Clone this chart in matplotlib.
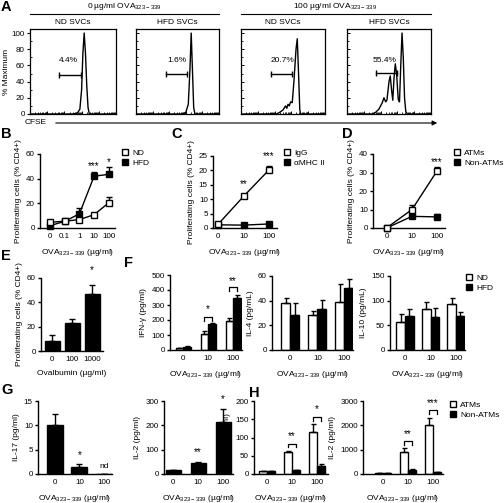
import matplotlib
matplotlib.use('Agg')
import matplotlib.pyplot as plt
from matplotlib.lines import Line2D
from matplotlib.patches import FancyArrowPatch
import numpy as np

plt.rcParams['font.family'] = ['Liberation Sans', 'DejaVu Sans']
plt.rcParams['mathtext.default'] = 'regular'
plt.rcParams['font.size'] = 6

W, H = 504, 503
fig = plt.figure(figsize=(W / 100, H / 100), dpi=100)

FS = 6.0
TFS = 5.8
OVA = 'OVA$_{323-339}$ (µg/ml)'

# ---------------- data ----------------
# Panel A histograms (x as fraction of CFSE axis, y as % of max)
h1_x = [0, 0.50, 0.55, 0.58, 0.60, 0.615, 0.63, 0.645, 0.66, 0.675, 0.69, 1]
h1_y = [0, 0, 1, 6, 30, 75, 100, 75, 35, 8, 0, 0]
h2_x = [0, 0.56, 0.60, 0.63, 0.65, 0.665, 0.68, 0.695, 0.71, 1]
h2_y = [0, 0, 2, 12, 55, 100, 55, 8, 0, 0]
h3_x = [0, 0.42, 0.46, 0.50, 0.53, 0.545, 0.56, 0.575, 0.59, 0.61, 0.63, 0.655, 0.67, 0.685, 0.70, 0.71, 1]
h3_y = [0, 0, 2, 5, 10, 7, 12, 10, 15, 14, 40, 80, 93, 50, 5, 0, 0]
h4_x = [0, 0.30, 0.34, 0.38, 0.42, 0.44, 0.46, 0.475, 0.50, 0.515, 0.53, 0.545, 0.56, 0.575,
        0.59, 0.61, 0.625, 0.64, 0.655, 0.67, 0.685, 0.70, 0.72, 1]
h4_y = [0, 0, 2, 6, 14, 20, 15, 17, 40, 47, 30, 17, 45, 62, 50, 18, 15, 60, 100, 70, 20, 3, 0, 0]
hist_titles = ['ND SVCs', 'HFD SVCs', 'ND SVCs', 'HFD SVCs']
hist_pct = ['4.4%', '1.6%', '20.7%', '55.4%']
gate_lo = [0.34, 0.36, 0.36, 0.35]
gate_hi = [0.59, 0.61, 0.61, 0.60]
gate_y = [48, 50, 50, 51]
pct_x = [0.44, 0.49, 0.49, 0.45]

# Panel B
b_cats = ['0', '0.1', '1', '10', '100']
b_nd = [4.6, 5.5, 6.8, 10.8, 20.5]
b_nd_err = [1.0, 0.8, 1.0, 1.0, 5.0]
b_hfd = [1.9, 5.4, 11.5, 42.0, 43.5]
b_hfd_err = [0.8, 0.8, 5.0, 3.5, 6.0]

# Panel C
c_cats = ['0', '10', '100']
c_igg = [1.3, 11.0, 20.2]
c_igg_err = [0.3, 0.5, 1.3]
c_mhc = [1.1, 1.0, 1.4]
c_mhc_err = [0.2, 0.2, 0.3]

# Panel D
d_cats = ['0', '10', '100']
d_atm = [0.2, 10.0, 30.8]
d_atm_err = [0.3, 2.2, 2.3]
d_non = [0.1, 6.3, 6.0]
d_non_err = [0.2, 1.0, 1.5]

# Panel E
e_cats = ['0', '100', '1000']
e_vals = [8.3, 23.2, 47.0]
e_err = [4.7, 3.0, 7.0]

# Panel F
f_cats = ['0', '10', '100']
f_ifn_nd = [11, 104, 193]
f_ifn_nd_err = [3, 25, 23]
f_ifn_hfd = [20, 173, 349]
f_ifn_hfd_err = [7, 9, 18]
f_il4_nd = [37.8, 28.4, 39.2]
f_il4_nd_err = [4.6, 3.2, 14.5]
f_il4_hfd = [28.4, 33.2, 50.0]
f_il4_hfd_err = [10.0, 7.3, 7.3]
f_il10_nd = [57.4, 82.4, 93.2]
f_il10_nd_err = [15, 14, 13]
f_il10_hfd = [69.0, 66.0, 69.6]
f_il10_hfd_err = [14, 20, 8]

# Panel G
g_cats = ['0', '10', '100']
g_il17 = [10.0, 1.4, 0.0]
g_il17_err = [2.3, 0.7, 0.0]
g_il2 = [15, 45, 215]
g_il2_err = [2, 3, 52]

# Panel H
h_cats = ['0', '10', '100']
h_ifn_atm = [7, 60, 115]
h_ifn_atm_err = [1, 3, 23]
h_ifn_non = [7, 10, 23]
h_ifn_non_err = [1, 2, 5]
h_il2_atm = [30, 920, 2020]
h_il2_atm_err = [5, 150, 300]
h_il2_non = [30, 170, 80]
h_il2_non_err = [5, 30, 20]


# ---------------- helpers ----------------
def add_ax(x0, x1, ytop, ybot):
    return fig.add_axes([x0 / W, 1 - ybot / H, (x1 - x0) / W, (ybot - ytop) / H])


def prism(ax, ymax, yticks, xlim, cats, ylabel, xlabel):
    ax.set_ylim(0, ymax)
    ax.set_yticks(yticks)
    ax.set_xlim(*xlim)
    ax.set_xticks(range(len(cats)))
    ax.set_xticklabels(cats)
    for s in ['top', 'right']:
        ax.spines[s].set_visible(False)
    for s in ['left', 'bottom']:
        ax.spines[s].set_linewidth(1.0)
    ax.spines['bottom'].set_bounds(xlim[0], xlim[1])
    ax.tick_params(direction='out', length=2.5, width=1.0, labelsize=TFS, pad=1.2)
    ax.tick_params(axis='x', length=0, pad=3.5)
    ax.set_ylabel(ylabel, fontsize=FS, labelpad=3)
    ax.set_xlabel(xlabel, fontsize=FS, labelpad=5)
    ax.patch.set_visible(False)


def star(ax, x, y, s):
    ax.annotate(s, (x, y), xytext=(0, -4), textcoords='offset points', ha='center',
                va='baseline', fontsize=7, annotation_clip=False)


def bracket(ax, x0, x1, ytop, yleg, ystar, s):
    ax.plot([x0, x0, x1, x1], [yleg, ytop, ytop, yleg], color='k', lw=0.9, clip_on=False)
    star(ax, (x0 + x1) / 2, ystar, s)


def line_series(ax, vals, err, filled):
    x = np.arange(len(vals))
    ax.errorbar(x, vals, yerr=[np.zeros(len(vals)), err], color='k', lw=1.0, capsize=2,
                capthick=1.0, elinewidth=1.0, marker='s', ms=4.5,
                mfc='k' if filled else 'white', mec='k', mew=1.0, clip_on=False,
                zorder=3 if filled else 4)


def grouped_bars(ax, v1, e1, v2, e2, w):
    x = np.arange(len(v1))
    ek = dict(capsize=1.8, capthick=1.0, elinewidth=1.0, ecolor='k')
    ax.bar(x - w / 2, v1, w, color='white', edgecolor='k', lw=1.0,
           yerr=[np.zeros(len(v1)), e1], error_kw=ek)
    ax.bar(x + w / 2, v2, w, color='k', edgecolor='k', lw=1.0,
           yerr=[np.zeros(len(v2)), e2], error_kw=ek)


def legend(x, y, labels, marker='s'):
    handles = [Line2D([], [], marker=marker, ls='none', ms=5, mfc='white', mec='k', mew=1.0),
               Line2D([], [], marker=marker, ls='none', ms=5, mfc='k', mec='k', mew=1.0)]
    fig.legend(handles, labels, loc='upper left', bbox_to_anchor=(x / W, 1 - y / H),
               frameon=False, fontsize=FS, handlelength=0.8, handletextpad=0.4,
               labelspacing=0.25, borderpad=0, borderaxespad=0)


def letter(x, y, s):
    fig.text(x / W, 1 - y / H, s, fontsize=10.5, fontweight='bold', ha='left', va='center')


# ---------------- Panel A ----------------
hist_boxes = [(30, 116), (136, 219), (241, 325), (347, 431)]
hx = [h1_x, h2_x, h3_x, h4_x]
hy = [h1_y, h2_y, h3_y, h4_y]
minor = [(d + np.log10(m)) / 5 for d in range(5) for m in range(2, 10)]
major = [d / 5 for d in range(6)]
for i, (x0, x1) in enumerate(hist_boxes):
    ax = add_ax(x0, x1, 29, 114)
    ax.plot(hx[i], hy[i], color='k', lw=1.0)
    ax.set_xlim(0, 1)
    ax.set_ylim(0, 105)
    ax.plot([gate_lo[i], gate_hi[i]], [gate_y[i], gate_y[i]], color='k', lw=1.0,
            marker='|', ms=4, mew=1.0)
    ax.text(pct_x[i], 66, hist_pct[i], ha='center', va='center', fontsize=FS)
    ax.set_xticks(major)
    ax.set_xticks(minor, minor=True)
    ax.set_xticklabels([])
    ax.tick_params(axis='x', which='major', direction='in', length=2.5, width=0.7)
    ax.tick_params(axis='x', which='minor', direction='in', length=1.5, width=0.6)
    ax.set_yticks([0, 20, 40, 60, 80, 100])
    ax.set_yticks([10, 30, 50, 70, 90], minor=True)
    for s in ax.spines.values():
        s.set_linewidth(0.9)
    if i == 0:
        ax.tick_params(axis='y', which='major', direction='out', length=2.5, width=0.8,
                       labelsize=TFS, pad=1.2)
        ax.tick_params(axis='y', which='minor', direction='in', length=1.5, width=0.6)
        ax.set_ylabel('% Maximum', fontsize=FS, labelpad=1.5)
    else:
        ax.set_yticklabels([])
        ax.tick_params(axis='y', which='major', direction='in', length=2, width=0.7)
        ax.tick_params(axis='y', which='minor', direction='in', length=1.5, width=0.6)
    fig.text((x0 + x1) / 2 / W, 1 - 22 / H, hist_titles[i], ha='center', va='center', fontsize=FS)

fig.text(124 / W, 1 - 6 / H, '0 µg/ml OVA$_{323-339}$', ha='center', va='center', fontsize=FS)
fig.text(335 / W, 1 - 6 / H, '100 µg/ml OVA$_{323-339}$', ha='center', va='center', fontsize=FS)
fig.add_artist(Line2D([30 / W, 219 / W], [1 - 14 / H] * 2, color='k', lw=0.8))
fig.add_artist(Line2D([241 / W, 431 / W], [1 - 14 / H] * 2, color='k', lw=0.8))
fig.text(25 / W, 1 - 123 / H, 'CFSE', ha='left', va='center', fontsize=FS)
fig.add_artist(FancyArrowPatch((53 / W, 1 - 123 / H), (440 / W, 1 - 123 / H),
                               transform=fig.transFigure, arrowstyle='-|>', mutation_scale=7,
                               lw=0.8, color='k'))
letter(1, 7, 'A')

# ---------------- Panel B ----------------
ax = add_ax(40, 115, 154, 228)
prism(ax, 60, [0, 20, 40, 60], (-0.68, 4.42), b_cats, 'Proliferating cells (% CD4+)', OVA)
line_series(ax, b_nd, b_nd_err, False)
line_series(ax, b_hfd, b_hfd_err, True)
star(ax, 3, 52.3, '***')
star(ax, 4, 55.5, '*')
legend(122, 149, ['ND', 'HFD'])
letter(1, 134, 'B')

# ---------------- Panel C ----------------
ax = add_ax(213, 277, 156, 228)
prism(ax, 25, [0, 5, 10, 15, 20, 25], (-0.2, 2.31), c_cats, 'Proliferating cells (% CD4+)', OVA)
line_series(ax, c_igg, c_igg_err, False)
line_series(ax, c_mhc, c_mhc_err, True)
star(ax, 1, 16, '**')
star(ax, 2, 26, '***')
legend(284, 149, ['IgG', 'αMHC II'])
letter(171, 134, 'C')

# ---------------- Panel D ----------------
ax = add_ax(373, 445, 154, 228)
prism(ax, 40, [0, 10, 20, 30, 40], (-0.56, 2.32), d_cats, 'Proliferating cells (% CD4+)', OVA)
line_series(ax, d_atm, d_atm_err, False)
line_series(ax, d_non, d_non_err, True)
star(ax, 2, 36.8, '***')
legend(454, 149, ['ATMs', 'Non-ATMs'])
letter(342, 134, 'D')

# ---------------- Panel E ----------------
ax = add_ax(41, 103, 278, 351)
prism(ax, 60, [0, 20, 40, 60], (-0.55, 2.55), e_cats, 'Proliferating cells (% CD4+)',
      'Ovalbumin (µg/ml)')
ax.bar(range(3), e_vals, 0.75, color='k', edgecolor='k', lw=1.0,
       yerr=[np.zeros(3), e_err], error_kw=dict(capsize=2, capthick=1.0, elinewidth=1.0))
star(ax, 2, 69, '*')
letter(1, 256, 'E')

# ---------------- Panel F ----------------
ax = add_ax(170, 242, 275, 350)
prism(ax, 500, [0, 100, 200, 300, 400, 500], (-0.52, 2.36), f_cats, 'IFN-γ (pg/ml)', OVA)
grouped_bars(ax, f_ifn_nd, f_ifn_nd_err, f_ifn_hfd, f_ifn_hfd_err, 0.3)
bracket(ax, 0.85, 1.15, 222, 195, 287, '*')
bracket(ax, 1.85, 2.15, 418, 395, 478, '**')
letter(124, 263, 'F')

ax = add_ax(272, 353, 276, 350)
prism(ax, 60, [0, 20, 40, 60], (-0.68, 2.32), f_cats, 'IL-4 (pg/mL)', OVA)
grouped_bars(ax, f_il4_nd, f_il4_nd_err, f_il4_hfd, f_il4_hfd_err, 0.33)

ax = add_ax(390, 465, 276, 350)
prism(ax, 150, [0, 50, 100, 150], (-0.59, 2.35), f_cats, 'IL-10 (pg/mL)', OVA)
grouped_bars(ax, f_il10_nd, f_il10_nd_err, f_il10_hfd, f_il10_hfd_err, 0.34)
legend(466, 274, ['ND', 'HFD'])

# ---------------- Panel G ----------------
ax = add_ax(38, 112, 401, 474)
prism(ax, 15, [0, 5, 10, 15], (-0.69, 2.33), g_cats, 'IL-17 (pg/ml)', OVA)
ax.bar(range(3), g_il17, 0.65, color='k', edgecolor='k', lw=1.0,
       yerr=[np.zeros(3), g_il17_err], error_kw=dict(capsize=2, capthick=1.0, elinewidth=1.0))
star(ax, 1, 4.4, '*')
ax.text(2, 1.5, 'nd', ha='center', va='center', fontsize=FS)
letter(1, 390, 'G')

ax = add_ax(164, 233, 401, 474)
prism(ax, 300, [0, 100, 200, 300], (-0.36, 2.4), g_cats, 'IL-2 (pg/ml)', OVA)
ax.bar(range(3), g_il2, 0.6, color='k', edgecolor='k', lw=1.0,
       yerr=[np.zeros(3), g_il2_err], error_kw=dict(capsize=2, capthick=1.0, elinewidth=1.0))
star(ax, 1, 99, '**')
star(ax, 2, 318, '*')

# ---------------- Panel H ----------------
ax = add_ax(254, 328, 401, 474)
prism(ax, 200, [0, 50, 100, 150, 200], (-0.52, 2.44), h_cats, 'IFN-γ (pg/ml)', OVA)
grouped_bars(ax, h_ifn_atm, h_ifn_atm_err, h_ifn_non, h_ifn_non_err, 0.32)
bracket(ax, 0.84, 1.16, 83, 74, 112, '**')
bracket(ax, 1.84, 2.16, 157, 146, 186, '*')
letter(249, 393, 'H')

ax = add_ax(363, 443, 401, 474)
prism(ax, 3000, [0, 1000, 2000, 3000], (-0.8, 2.4), h_cats, 'IL-2 (pg/ml)', OVA)
grouped_bars(ax, h_il2_atm, h_il2_atm_err, h_il2_non, h_il2_non_err, 0.33)
bracket(ax, 0.84, 1.16, 1375, 1200, 1743, '**')
bracket(ax, 1.84, 2.16, 2632, 2468, 3000, '***')
legend(450, 401, ['ATMs', 'Non-ATMs'])

fig.savefig('out.png', dpi=100)
